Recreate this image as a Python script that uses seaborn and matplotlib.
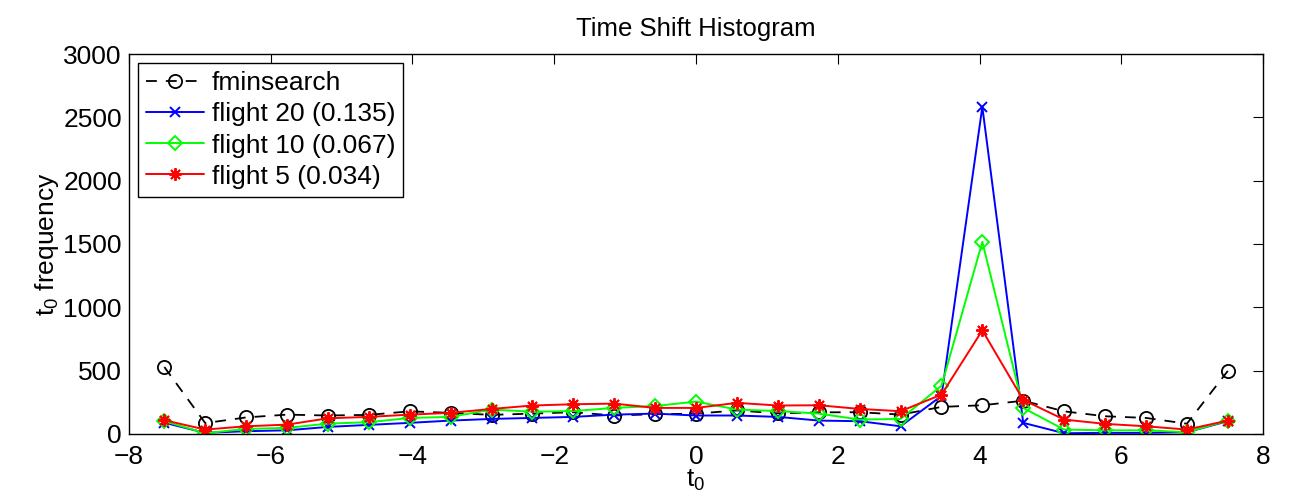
import numpy as np
import pandas as pd
import matplotlib
matplotlib.use("Agg")
import matplotlib.pyplot as plt
import seaborn as sns

# t0 bin centres: 27 bins from -7.5 to 7.5
t0 = [-7.5, -6.923, -6.346, -5.769, -5.192, -4.615, -4.038, -3.462, -2.885,
      -2.308, -1.731, -1.154, -0.577, 0.0, 0.577, 1.154, 1.731, 2.308,
      2.885, 3.462, 4.038, 4.615, 5.192, 5.769, 6.346, 6.923, 7.5]

fminsearch = [528, 85, 130, 152, 145, 150, 178, 166, 150, 160, 171, 145,
              155, 160, 185, 162, 170, 171, 152, 213, 226, 262, 178, 139,
              126, 80, 497]
flight20 = [88, 8, 21, 28, 55, 71, 87, 105, 118, 126, 134, 152,
            160, 145, 145, 134, 105, 100, 60, 300, 2583, 87, 5, 8,
            8, 13, 100]
flight10 = [100, 5, 39, 47, 81, 92, 126, 134, 192, 175, 180, 205,
            220, 255, 192, 180, 160, 113, 118, 380, 1517, 205, 34, 28,
            28, 13, 105]
flight5 = [108, 34, 60, 73, 123, 134, 152, 166, 197, 224, 234, 239,
           205, 205, 245, 224, 226, 197, 179, 310, 818, 268, 113, 79,
           60, 34, 105]

x_ticks = [-8, -6, -4, -2, 0, 2, 4, 6, 8]
y_ticks = [0, 500, 1000, 1500, 2000, 2500, 3000]

sns.set_style("white")
plt.rcParams['font.family'] = ['Liberation Sans', 'DejaVu Sans']
plt.rcParams['mathtext.fontset'] = 'custom'
plt.rcParams['mathtext.rm'] = 'Liberation Sans'
plt.rcParams['mathtext.it'] = 'Liberation Sans'
plt.rcParams['text.color'] = 'black'
plt.rcParams['axes.labelcolor'] = 'black'

fig = plt.figure(figsize=(12.89, 5.01), dpi=100)
ax = fig.add_axes([0.1, 0.134, 0.88, 0.758])

asterisk = (8, 2, 0)

sns.lineplot(x=t0, y=fminsearch, ax=ax, color='black', linestyle=(0, (6, 5)),
             linewidth=1.3, marker='o', markersize=9.5, markerfacecolor='none',
             markeredgecolor='black', markeredgewidth=1.3, label='fminsearch')
sns.lineplot(x=t0, y=flight20, ax=ax, color='#0000ff', linewidth=1.4,
             marker='x', markersize=7, markeredgecolor='#0000ff',
             markeredgewidth=1.4, label='flight 20 (0.135)')
sns.lineplot(x=t0, y=flight10, ax=ax, color='#00ff00', linewidth=1.4,
             marker='D', markersize=7.5, markerfacecolor='none',
             markeredgecolor='#00ff00', markeredgewidth=1.4,
             label='flight 10 (0.067)')
sns.lineplot(x=t0, y=flight5, ax=ax, color='#ff0000', linewidth=1.4,
             marker=asterisk, markersize=9, markeredgecolor='#ff0000',
             markeredgewidth=1.4, label='flight 5 (0.034)')

ax.set_xlim(-8, 8)
ax.set_ylim(0, 3000)
ax.set_xticks(x_ticks)
ax.set_yticks(y_ticks)
ax.set_xticklabels([str(v).replace('-', '\u2212') for v in x_ticks])
ax.tick_params(direction='in', length=7, width=0.8, top=True, right=True,
               labelsize=19, colors='black')
ax.tick_params(axis='x', pad=8)
ax.tick_params(axis='y', pad=5)
for s in ax.spines.values():
    s.set_color('black')
    s.set_linewidth(1.0)

ax.set_title('Time Shift Histogram', fontsize=18.5, pad=13, color='black')
ax.set_xlabel('t$_{0}$', fontsize=19, labelpad=-1)
ax.set_ylabel('t$_{0}$ frequency', fontsize=19, labelpad=2)

leg = ax.legend(loc='upper left', fontsize=19, frameon=True, fancybox=False,
                edgecolor='black', framealpha=1, handlelength=2.2,
                borderaxespad=0.35, labelspacing=0.27, handletextpad=0.3,
                borderpad=0.3)
leg.get_frame().set_linewidth(1.0)
for txt in leg.get_texts():
    txt.set_color('black')

fig.savefig('out.png', dpi=100)
